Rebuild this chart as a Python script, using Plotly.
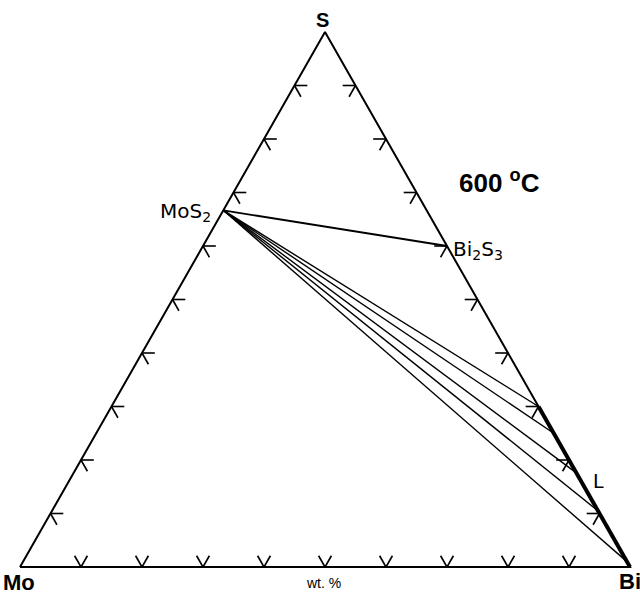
import numpy as np
import plotly.graph_objects as go

# Compositions as fractions (Mo, Bi, S) -- atomic basis as drawn
vertex_names = ["Mo", "Bi", "S"]
tick_fracs = [0.1, 0.2, 0.3, 0.4, 0.5, 0.6, 0.7, 0.8, 0.9]
mos2 = (1/3, 0.0, 2/3)
bi2s3 = (0.0, 0.4, 0.6)
liquid_s_range = [0.0, 0.30]          # liquid L along Bi-S edge (S fraction)
tie_liquid_s = [0.30, 0.25, 0.176, 0.105, 0.01]   # S fraction of liquid ends of tie lines

TICK = 0.021

def xy(mo, bi, s):
    return bi + s / 2.0, s

fig = go.Figure()

def seg(p, q, width, color="black"):
    x0, y0 = xy(*p)
    x1, y1 = xy(*q)
    fig.add_trace(go.Scatter(x=[x0, x1], y=[y0, y1], mode="lines",
                             line=dict(color=color, width=width),
                             hoverinfo="skip", showlegend=False))

# triangle
tri = [(1, 0, 0), (0, 1, 0), (0, 0, 1), (1, 0, 0)]
tx, ty = zip(*[xy(*p) for p in tri])
fig.add_trace(go.Scatter(x=tx, y=ty, mode="lines", line=dict(color="black", width=2),
                         hoverinfo="skip", showlegend=False))

# tick stubs
tkx, tky = [], []
def stub(p, q):
    a = xy(*p); b = xy(*q)
    tkx.extend([a[0], b[0], None]); tky.extend([a[1], b[1], None])

d = TICK
for f in tick_fracs:
    # left edge (Bi = 0), S = f
    p = (1 - f, 0, f)
    stub(p, (1 - f - d, d, f))
    stub(p, (1 - f, d, f - d))
    # bottom edge (S = 0), Bi = f
    p = (1 - f, f, 0)
    stub(p, (1 - f - d, f, d))
    stub(p, (1 - f, f - d, d))
    # right edge (Mo = 0), S = f
    p = (0, 1 - f, f)
    stub(p, (d, 1 - f - d, f))
    stub(p, (d, 1 - f, f - d))
fig.add_trace(go.Scatter(x=tkx, y=tky, mode="lines", line=dict(color="black", width=1.6),
                         hoverinfo="skip", showlegend=False))

# tie line MoS2 - Bi2S3
seg(mos2, bi2s3, 1.8)
# tie lines MoS2 - liquid
for s in tie_liquid_s:
    seg(mos2, (0, 1 - s, s), 1.4)
# liquid L
seg((0, 1 - liquid_s_range[0], liquid_s_range[0]), (0, 1 - liquid_s_range[1], liquid_s_range[1]), 4)

# labels
W, H = 640, 594
ann = []
ARIAL = "Arial, Liberation Sans, sans-serif"
LBL = "DejaVu Sans, Verdana, sans-serif"
def label(x, y, text, size, bold=False, family=ARIAL, xanchor="center"):
    ann.append(dict(x=x / W, y=1 - y / H, xref="paper", yref="paper",
                    text=f"<b>{text}</b>" if bold else text,
                    showarrow=False, font=dict(size=size, family=family, color="black"),
                    xanchor=xanchor, yanchor="middle"))

label(322, 20, "S", 20, True)
label(19, 582, "Mo", 22, True)
label(617, 581, "Bi", 22, True, xanchor="left")
label(323, 583, "wt. %", 14)
label(499, 181, "600&nbsp;<sup>o</sup>C", 26, True)
label(213, 212, "MoS<sub>2</sub>", 20, family=LBL, xanchor="right")
label(451, 250, "Bi<sub>2</sub>S<sub>3</sub>", 20, family=LBL, xanchor="left")
label(598, 481, "L", 19, family=LBL)

# pixel mapping: Mo at (20,567), Bi at (630,567), S at (322,32)
sx = 610.0
sy = 535.0
x0 = -20 / sx
y0 = -(H - 567) / sy
fig.update_layout(
    width=W, height=H, margin=dict(l=0, r=0, t=0, b=0),
    paper_bgcolor="white", plot_bgcolor="white",
    xaxis=dict(range=[x0, x0 + W / sx], visible=False, fixedrange=True),
    yaxis=dict(range=[y0, y0 + H / sy], visible=False, fixedrange=True),
    annotations=ann, showlegend=False,
)
fig.write_html(
    "out.html",
    config={"responsive": False, "displayModeBar": False},
    post_script=(
        "document.body.style.margin='0';document.body.style.padding='0';"
        "document.body.style.overflow='hidden';"
        "Plotly.relayout('{plot_id}', {width: 640, height: 594});"
    ),
)
